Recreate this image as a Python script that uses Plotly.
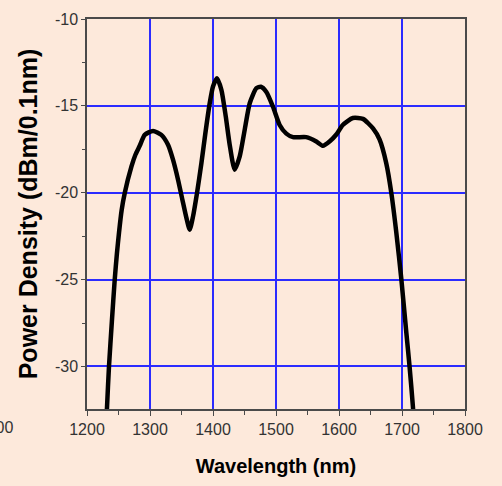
import plotly.graph_objects as go

# Data
wavelength_nm = [1230.5, 1231.7, 1234.9, 1239.5, 1244.0, 1247.5, 1250.8, 1255, 1260, 1270.5,
                 1277, 1283.7, 1291.6, 1304.8, 1318, 1328.6, 1336.5, 1344.5, 1351.4, 1357.8,
                 1363, 1368.3, 1374.6, 1381.6, 1387.9, 1394.8, 1400, 1406.4, 1413.3, 1420.2,
                 1426.5, 1434.4, 1442.4, 1450.3, 1458.3, 1468.9, 1476, 1484.7, 1495.2, 1505.8,
                 1516.4, 1527, 1548, 1564, 1574.6, 1585, 1595.8, 1606, 1622, 1638,
                 1654, 1664.5, 1675, 1683, 1691, 1699, 1707, 1712, 1717.5, 1719]
power_dbm = [-33.5, -32.4, -30.0, -27.4, -25.0, -23.5, -22.3, -21.0, -20.0, -18.5,
             -17.8, -17.3, -16.67, -16.44, -16.67, -17.24, -18.1, -19.25, -20.4, -21.45,
             -22.13, -21.36, -20.02, -18.3, -16.57, -14.85, -13.89, -13.41, -14.08, -15.6,
             -17.24, -18.68, -17.91, -16.38, -14.85, -13.98, -13.9, -14.2, -15.05, -16.1,
             -16.6, -16.8, -16.8, -17.05, -17.3, -17.05, -16.65, -16.1, -15.7, -15.75,
             -16.3, -16.95, -18.3, -20.0, -22.3, -25.0, -28.1, -30.0, -32.4, -33.5]

x_ticks = [1200, 1300, 1400, 1500, 1600, 1700, 1800]
y_ticks = [-10, -15, -20, -25, -30]
x_range = [1200, 1800]
y_range = [-32.45, -10]

BG = "#FDE9DB"
GRID = "#2B2BFF"
AXIS = "#4A4A4A"
FONT = "Liberation Sans, Arial, sans-serif"

fig = go.Figure()
fig.add_trace(go.Scatter(
    x=wavelength_nm, y=power_dbm, mode="lines",
    line=dict(color="black", width=4.5, shape="spline", smoothing=0.6),
    cliponaxis=True, showlegend=False,
))

fig.update_layout(
    width=502, height=486,
    margin=dict(l=87, r=37, t=19, b=77),
    paper_bgcolor=BG, plot_bgcolor=BG,
    font=dict(family=FONT, color="#333333"),
    xaxis=dict(
        range=x_range, tickvals=x_ticks, ticktext=[str(v) for v in x_ticks],
        showgrid=True, gridcolor=GRID, gridwidth=1.5,
        showline=True, linecolor=AXIS, linewidth=1.5, mirror=True,
        ticks="outside", ticklen=5, tickwidth=1.2, tickcolor=AXIS,
        minor=dict(dtick=50, ticks="outside", ticklen=4, tickwidth=1.2,
                   tickcolor=AXIS, showgrid=False),
        tickfont=dict(size=16, color="#333333"),
        zeroline=False,
        title=dict(text="<b>Wavelength (nm)</b>", font=dict(size=20, color="black"),
                   standoff=22),
    ),
    yaxis=dict(
        range=y_range, tickvals=y_ticks, ticktext=[str(v) for v in y_ticks],
        showgrid=True, gridcolor=GRID, gridwidth=1.5,
        showline=True, linecolor=AXIS, linewidth=1.5, mirror=True,
        ticks="outside", ticklen=4, tickwidth=1.2, tickcolor=AXIS,
        minor=dict(dtick=2.5, tick0=-10, ticks="outside", ticklen=3, tickwidth=1.2,
                   tickcolor=AXIS, showgrid=False),
        tickfont=dict(size=16, color="#333333"),
        zeroline=False,
        title=dict(text="<b>Power Density (dBm/0.1nm)</b>", font=dict(size=25, color="black"),
                   standoff=10),
    ),
    annotations=[dict(
        text="1100", xref="paper", yref="paper",
        x=(16 - 87) / 378, y=-0.02, xanchor="right", yanchor="top",
        showarrow=False, font=dict(size=16, color="#333333", family=FONT),
    )],
)

fig.write_html("out.html")
